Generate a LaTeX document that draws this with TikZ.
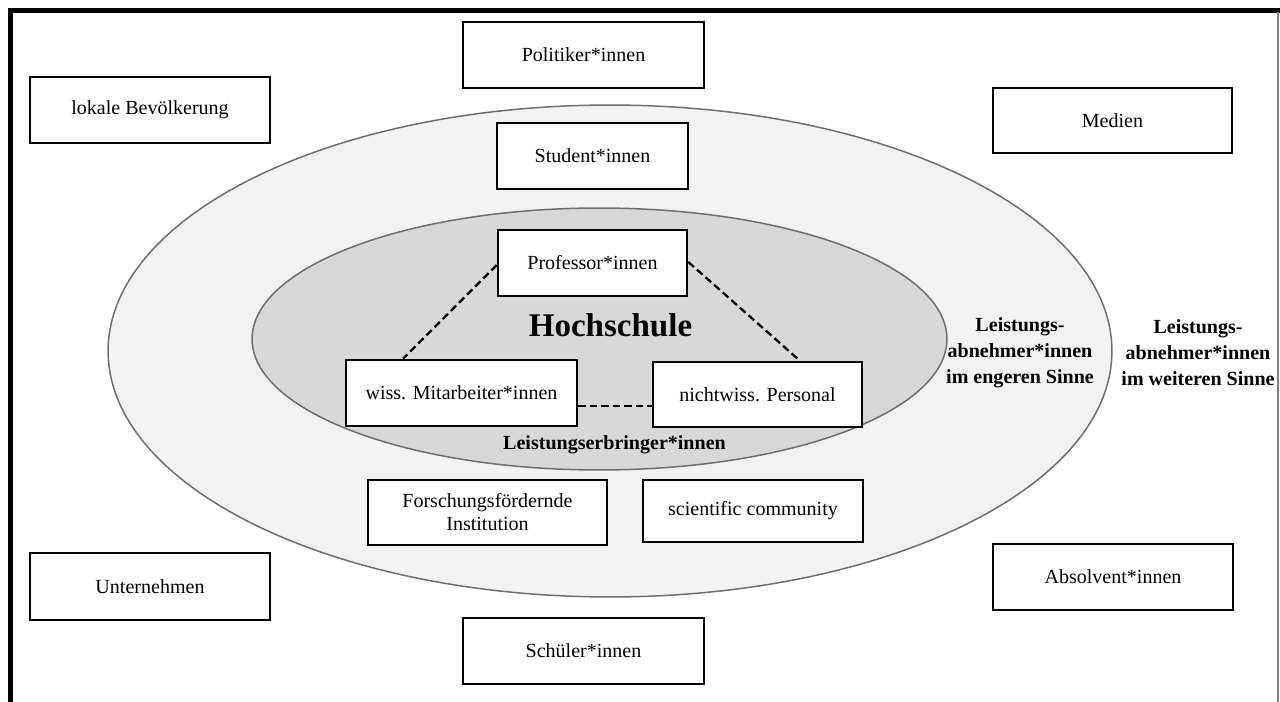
\documentclass[tikz,border=0pt]{standalone}
\usepackage{fontspec}
\setmainfont{Liberation Serif}
\usetikzlibrary{calc}
\definecolor{outerfill}{HTML}{F2F2F2}
\definecolor{innerfill}{HTML}{D8D8D8}
\definecolor{ringline}{HTML}{6E6E6E}
\begin{document}
\begin{tikzpicture}[x=0.02cm,y=-0.02cm,
  box/.style={draw=black, line width=1.5pt, fill=white, inner sep=0pt, align=center,
    font=\fontsize{11.4}{13.1}\selectfont},
  conn/.style={draw=black, line width=1.3pt, dash pattern=on 0.15cm off 0.08cm},
  lbl/.style={font=\bfseries\fontsize{11.4}{14.8}\selectfont, align=center, inner sep=0pt},
  ring/.style={draw=ringline, line width=0.85pt}]
\useasboundingbox (0,0) rectangle (1280,702);
% frame
\draw[line width=0.1cm, line join=miter] (10.5,702) -- (10.5,10.5) -- (1280,10.5);
\draw[draw=gray, line width=0.03cm] (1278,12) -- (1278,702);
% ellipses
\draw[ring, fill=outerfill] (610,351) ellipse [x radius=10.04cm, y radius=4.92cm];
\draw[ring, fill=innerfill] (599.5,339) ellipse [x radius=6.95cm, y radius=2.62cm];
% boxes
\node[box, minimum width=4.82cm, minimum height=1.32cm] (pol) at (583.5,55) {Politiker*innen};
\node[box, minimum width=4.8cm, minimum height=1.32cm] (lok) at (150,110) {lokale Bevölkerung};
\node[box, minimum width=4.78cm, minimum height=1.3cm] (med) at (1112.5,120.5) {Medien};
\node[box, minimum width=3.82cm, minimum height=1.32cm] (stu) at (592.5,156) {Student*innen};
\node[box, minimum width=3.78cm, minimum height=1.32cm] (prof) at (592.5,263) {Professor*innen};
\node[box, minimum width=4.62cm, minimum height=1.32cm] (wiss) at (461.5,393) {wiss. Mitarbeiter*innen};
\node[box, minimum width=4.18cm, minimum height=1.3cm] (nicht) at (757.5,394.5) {nichtwiss. Personal};
\node[box, minimum width=4.78cm, minimum height=1.3cm] (for) at (487.5,512.5) {Forschungsfördernde\\Institution};
\node[box, minimum width=4.4cm, minimum height=1.24cm] (sci) at (753,511) {scientific community};
\node[box, minimum width=4.8cm, minimum height=1.34cm] (unt) at (150,586.5) {Unternehmen};
\node[box, minimum width=4.8cm, minimum height=1.32cm] (abs) at (1113,577) {Absolvent*innen};
\node[box, minimum width=4.82cm, minimum height=1.32cm] (sch) at (583.5,651) {Schüler*innen};
% texts
\node[anchor=base, inner sep=0pt, font=\bfseries\fontsize{18.8}{20}\selectfont] (hs) at (610.5,337) {Hochschule};
\node[anchor=base, inner sep=0pt, font=\bfseries\fontsize{11.4}{13}\selectfont] (le) at (614.5,449) {Leistungserbringer*innen};
\node[lbl] (eng) at (1020,353) {Leistungs-\\abnehmer*innen\\im engeren Sinne};
\node[lbl] (wei) at (1198,353) {Leistungs-\\abnehmer*innen\\im weiteren Sinne};
% connectors
\draw[conn] ([yshift=-0.04cm]prof.west) -- ($(wiss.north west)!0.25!(wiss.north east)$);
\draw[conn] ([yshift=0.02cm]prof.east) -- ($(nicht.north west)!0.7!(nicht.north east)$);
\draw[conn] ([yshift=-0.26cm]wiss.east) -- ([yshift=-0.26cm]wiss.east -| nicht.west);
\end{tikzpicture}
\end{document}
